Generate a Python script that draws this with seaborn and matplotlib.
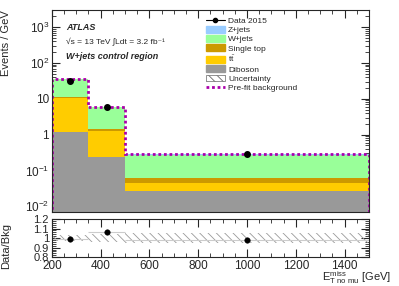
import numpy as np
import pandas as pd
import matplotlib
matplotlib.use("Agg")
import matplotlib.pyplot as plt
import matplotlib.patches as mpatches
import matplotlib.lines as mlines
from matplotlib.ticker import FixedLocator, FixedFormatter, MultipleLocator
import seaborn as sns

# binning and yields (events / GeV)
bin_edges = [200, 350, 500, 1500]
bin_centers = [275, 425, 1000]
processes = ["Z+jets", "W+jets", "Single top", "ttbar", "Diboson"]
zjets = [0.3, 0.05, 0.002]
wjets = [23.5, 4.4, 0.218]
single_top = [0.7, 0.15, 0.014]
ttbar = [9.3, 1.05, 0.020]
diboson = [1.2, 0.245, 0.026]
prefit = [35.0, 6.0, 0.28]
data = [31.5, 6.1, 0.28]
ratio = [0.99, 1.065, 0.98]
ratio_unc = [0.028, 0.04, 0.05]

colors = {"Z+jets": "#99ccff", "W+jets": "#99ff99", "Single top": "#cc9900",
          "ttbar": "#ffcc00", "Diboson": "#999999"}

sns.set_theme(style="ticks")
plt.rcParams["font.family"] = ["Liberation Sans", "DejaVu Sans"]
plt.rcParams["mathtext.fontset"] = "custom"
plt.rcParams["mathtext.rm"] = "Liberation Sans"
plt.rcParams["mathtext.it"] = "Liberation Sans:italic"
plt.rcParams["mathtext.bf"] = "Liberation Sans:bold"
plt.rcParams["mathtext.default"] = "regular"
plt.rcParams["hatch.linewidth"] = 0.6

yields = {"Z+jets": zjets, "W+jets": wjets, "Single top": single_top,
          "ttbar": ttbar, "Diboson": diboson}
df = pd.DataFrame([(p, c, v) for p in processes
                   for c, v in zip(bin_centers, yields[p])],
                  columns=["process", "met", "value"])

fig = plt.figure(figsize=(3.99, 2.86), dpi=100)
ax = fig.add_axes([0.130, 0.259, 0.795, 0.706])
rax = fig.add_axes([0.130, 0.101, 0.795, 0.133])

ax.set_yscale("log")
sns.histplot(data=df, x="met", weights="value", hue="process", hue_order=processes,
             bins=bin_edges, multiple="stack", palette=colors, element="bars",
             linewidth=0, alpha=1, legend=False, ax=ax)
ax.stairs(prefit, bin_edges, color="#aa00aa", linestyle=(0, (1, 1)), linewidth=2)
ax.errorbar(bin_centers, data, yerr=[0.0, 0.0, 0.0], fmt="o", color="black",
            markersize=4, linewidth=0.8)

ax.set_xlim(200, 1500)
ax.set_ylim(0.007, 3000)
ax.set_xlabel("")
ax.set_ylabel("")
ax.yaxis.set_major_locator(FixedLocator([1e-2, 1e-1, 1, 10, 100, 1000]))
ax.yaxis.set_major_formatter(FixedFormatter([r"$10^{-2}$", r"$10^{-1}$", "1", "10",
                                             r"$10^{2}$", r"$10^{3}$"]))
ax.xaxis.set_major_locator(MultipleLocator(200))
ax.xaxis.set_minor_locator(MultipleLocator(50))
ax.tick_params(axis="x", labelbottom=False)

for a in (ax, rax):
    a.tick_params(which="both", direction="in", top=True, right=True, labelsize=8.5, pad=2)
    a.tick_params(which="major", length=6, width=0.8)
    a.tick_params(which="minor", length=3, width=0.6)
    for s in a.spines.values():
        s.set_linewidth(0.8)

fig.text(6 / 399, 1 - 10 / 286, "Events / GeV", rotation=90, ha="center", va="top",
         fontsize=8)
fig.text(6.5 / 399, 1 - 246 / 286, "Data/Bkg", rotation=90, ha="center", va="center",
         fontsize=8)

ax.text(0.045, 0.90, "ATLAS", transform=ax.transAxes, fontsize=6.5,
        fontweight="bold", fontstyle="italic")
ax.text(0.045, 0.83, "\u221as = 13 TeV \u222bLdt = 3.2 fb\u207b\u00b9",
        transform=ax.transAxes, fontsize=6)
ax.text(0.045, 0.755, "W+jets control region", transform=ax.transAxes, fontsize=6.5,
        fontweight="bold", fontstyle="italic")

handles = [mlines.Line2D([], [], color="black", marker="o", markersize=3, linewidth=0.8)]
labels = ["Data 2015"]
for p in processes:
    handles.append(mpatches.Patch(facecolor=colors[p], edgecolor=colors[p]))
    labels.append(r"$t\bar{t}$" if p == "ttbar" else p)
handles.append(mpatches.Patch(facecolor="white", edgecolor="#666666", hatch="\\\\\\\\",
                              linewidth=0.5))
labels.append("Uncertainty")
handles.append(mlines.Line2D([], [], color="#aa00aa", linestyle=(0, (1, 1)), linewidth=2))
labels.append("Pre-fit background")
ax.legend(handles, labels, loc="upper left", bbox_to_anchor=(0.475, 0.985), frameon=False,
          fontsize=6, handlelength=2.3, handleheight=0.9, labelspacing=0.12,
          handletextpad=0.35, borderaxespad=0)

# ratio panel
band_lo = [1 - u for u in ratio_unc]
band_hi = [1 + u for u in ratio_unc]
rax.stairs(band_hi, bin_edges, baseline=band_lo, fill=True, facecolor="none",
           edgecolor="#999999", hatch="\\\\\\\\", linewidth=0)
xerr = [[c - lo for c, lo in zip(bin_centers, bin_edges[:-1])],
        [hi - c for c, hi in zip(bin_centers, bin_edges[1:])]]
rax.errorbar(bin_centers, ratio, xerr=xerr, fmt="none", ecolor="#cccccc", linewidth=0.8)
sns.scatterplot(x=bin_centers, y=ratio, color="black", s=16, edgecolor="black",
                zorder=5, ax=rax)
rax.set_xlim(200, 1500)
rax.set_ylim(0.8, 1.2)
rax.set_ylabel("")
rax.yaxis.set_major_locator(FixedLocator([0.8, 0.9, 1.0, 1.1, 1.2]))
rax.yaxis.set_major_formatter(FixedFormatter(["0.8", "0.9", "1", "1.1", "1.2"]))
rax.tick_params(axis="y", labelsize=8)
rax.yaxis.set_minor_locator(MultipleLocator(0.02))
rax.xaxis.set_major_locator(MultipleLocator(200))
rax.xaxis.set_minor_locator(MultipleLocator(50))
rax.set_xlabel(r"$E_{T\ no\ mu}^{miss}$ [GeV]", fontsize=8, loc="right")
rax.xaxis.set_label_coords(1.07, -0.33)

fig.savefig("out.png", dpi=100)
